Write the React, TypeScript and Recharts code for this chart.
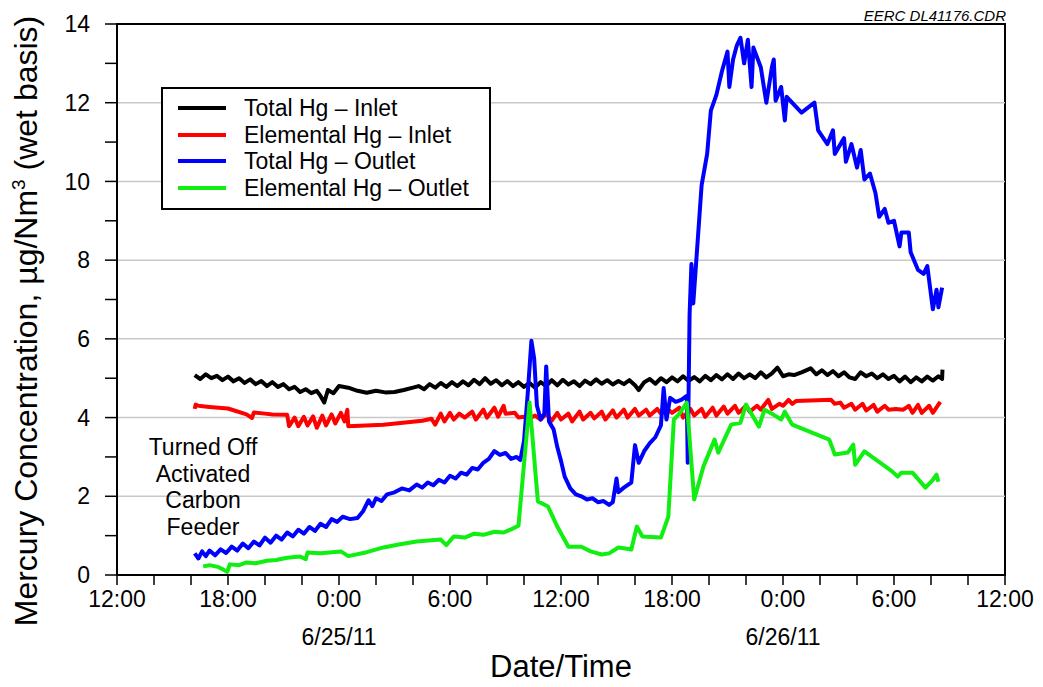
import { LineChart, Line, XAxis, YAxis, ReferenceLine, ReferenceArea, Legend } from 'recharts';

// hours after 6/24/11 12:00, concentration in µg/Nm3
const totalInlet: [number, number][] = [
    [4.2, 5.08], [4.5, 4.98], [4.8, 5.1], [5.1, 5.0], [5.4, 5.06], [5.7, 4.95], [6.0, 5.04], [6.3, 4.92], [6.6, 5.0],
    [6.9, 4.88], [7.2, 4.97], [7.5, 4.85], [7.8, 4.93], [8.1, 4.8], [8.4, 4.9], [8.7, 4.78], [9.0, 4.85], [9.3, 4.72],
    [9.6, 4.78], [9.9, 4.65], [10.2, 4.72], [10.5, 4.62], [10.8, 4.68], [11.0, 4.55], [11.2, 4.38], [11.4, 4.7],
    [11.7, 4.62], [12.0, 4.8], [12.5, 4.76], [13.0, 4.68], [13.5, 4.63], [14.0, 4.68], [14.5, 4.64], [15.0, 4.65],
    [15.5, 4.7], [16.0, 4.76], [16.3, 4.8], [16.6, 4.72], [16.9, 4.85], [17.2, 4.76], [17.5, 4.88], [17.8, 4.78],
    [18.1, 4.9], [18.4, 4.8], [18.7, 4.92], [19.0, 4.82], [19.3, 4.96], [19.6, 4.85], [19.9, 5.0], [20.2, 4.86],
    [20.5, 4.95], [20.8, 4.82], [21.1, 4.93], [21.4, 4.8], [21.7, 4.9], [22.0, 4.78], [22.3, 4.88], [22.6, 4.76],
    [22.9, 4.9], [23.2, 4.8], [23.5, 4.95], [23.8, 4.82], [24.1, 4.96], [24.4, 4.84], [24.7, 4.92], [25.0, 4.8],
    [25.3, 4.94], [25.6, 4.85], [25.9, 4.97], [26.2, 4.86], [26.5, 4.95], [26.8, 4.84], [27.1, 4.93], [27.4, 4.85],
    [27.7, 4.95], [28.0, 4.82], [28.2, 4.7], [28.5, 4.9], [28.8, 4.98], [29.1, 4.86], [29.4, 5.0], [29.7, 4.9],
    [30.0, 5.02], [30.3, 4.92], [30.6, 5.05], [30.9, 4.93], [31.2, 5.03], [31.5, 4.92], [31.8, 5.06], [32.1, 4.95],
    [32.4, 5.08], [32.7, 4.97], [33.0, 5.1], [33.3, 4.98], [33.6, 5.12], [33.9, 5.0], [34.2, 5.1], [34.5, 5.0],
    [34.8, 5.15], [35.1, 5.02], [35.4, 5.12], [35.7, 5.27], [36.0, 5.05], [36.3, 5.1], [36.6, 5.08], [37.0, 5.15],
    [37.5, 5.25], [37.8, 5.1], [38.1, 5.2], [38.4, 5.08], [38.7, 5.18], [39.0, 5.05], [39.3, 5.15], [39.6, 5.02],
    [39.9, 4.98], [40.2, 5.15], [40.5, 5.05], [40.8, 5.12], [41.1, 5.0], [41.4, 5.1], [41.7, 4.98], [42.0, 5.06],
    [42.3, 4.92], [42.6, 5.04], [42.9, 4.9], [43.2, 5.02], [43.5, 4.92], [43.8, 5.04], [44.1, 4.94], [44.4, 5.05],
    [44.6, 4.98], [44.62, 5.22],
];

const elementalInlet: [number, number][] = [
    [4.2, 4.22], [4.25, 4.33], [4.4, 4.3], [5.0, 4.27], [6.0, 4.23], [7.0, 4.08], [7.3, 3.99], [7.4, 4.13], [8.0, 4.1],
    [8.4, 4.08], [9.2, 4.07], [9.3, 3.78], [9.6, 4.0], [9.8, 3.78], [10.1, 4.02], [10.3, 3.8], [10.6, 4.03], [10.8, 3.74],
    [11.1, 4.05], [11.3, 3.8], [11.6, 4.08], [11.8, 3.85], [12.1, 4.12], [12.3, 3.9], [12.45, 4.2], [12.5, 3.78],
    [14.4, 3.82], [16.5, 3.92], [17.0, 3.97], [17.2, 3.82], [17.5, 4.1], [17.7, 3.9], [18.0, 4.12], [18.2, 3.95],
    [18.5, 4.1], [18.8, 4.0], [19.2, 4.15], [19.4, 3.95], [19.8, 4.2], [20.0, 4.0], [20.4, 4.25], [20.6, 4.02],
    [20.9, 4.3], [21.0, 4.1], [21.5, 4.12], [21.7, 4.0], [22.0, 4.02], [22.3, 3.98], [22.6, 4.05], [22.9, 3.95],
    [23.2, 4.1], [23.5, 3.92], [23.8, 4.12], [24.0, 3.95], [24.4, 4.1], [24.6, 3.9], [25.0, 4.15], [25.2, 3.95],
    [25.6, 4.12], [25.8, 3.98], [26.2, 4.15], [26.4, 3.95], [26.8, 4.18], [27.0, 4.0], [27.4, 4.2], [27.6, 4.0],
    [28.0, 4.22], [28.2, 4.05], [28.6, 4.2], [28.8, 4.05], [29.2, 4.22], [29.4, 4.1], [29.8, 4.2], [30.0, 4.12],
    [30.4, 4.25], [30.6, 4.0], [31.0, 4.22], [31.2, 4.05], [31.6, 4.22], [31.8, 4.02], [32.2, 4.25], [32.4, 4.05],
    [32.8, 4.28], [33.0, 4.1], [33.4, 4.3], [33.6, 4.12], [34.0, 4.3], [34.2, 4.15], [34.6, 4.3], [34.8, 4.2],
    [35.2, 4.45], [35.4, 4.22], [35.8, 4.35], [36.0, 4.3], [36.3, 4.45], [36.5, 4.35], [36.7, 4.42], [38.6, 4.45],
    [38.8, 4.35], [39.1, 4.38], [39.3, 4.25], [39.7, 4.35], [39.9, 4.2], [40.3, 4.35], [40.5, 4.18], [40.9, 4.32],
    [41.1, 4.15], [41.5, 4.3], [41.7, 4.2], [42.1, 4.22], [42.5, 4.2], [42.8, 4.3], [43.0, 4.12], [43.3, 4.32],
    [43.5, 4.12], [43.9, 4.3], [44.1, 4.12], [44.5, 4.4],
];

const totalOutlet: [number, number][] = [
    [4.2, 0.55], [4.4, 0.42], [4.6, 0.6], [4.8, 0.48], [5.0, 0.62], [5.3, 0.5], [5.6, 0.65], [5.9, 0.56], [6.2, 0.72],
    [6.5, 0.62], [6.8, 0.8], [7.1, 0.68], [7.4, 0.85], [7.7, 0.75], [8.0, 0.95], [8.3, 0.82], [8.6, 1.0], [8.9, 0.9],
    [9.2, 1.08], [9.5, 0.98], [9.8, 1.15], [10.1, 1.05], [10.4, 1.22], [10.7, 1.12], [11.0, 1.3], [11.3, 1.22],
    [11.6, 1.42], [11.9, 1.35], [12.2, 1.48], [12.6, 1.42], [13.0, 1.45], [13.3, 1.62], [13.6, 1.9], [13.8, 1.75],
    [14.0, 1.95], [14.3, 1.88], [14.6, 2.05], [15.0, 2.1], [15.4, 2.2], [15.8, 2.15], [16.2, 2.3], [16.5, 2.22],
    [16.8, 2.35], [17.1, 2.28], [17.4, 2.42], [17.7, 2.35], [18.0, 2.52], [18.3, 2.45], [18.6, 2.6], [18.9, 2.55],
    [19.2, 2.72], [19.5, 2.68], [19.8, 2.85], [20.1, 2.95], [20.4, 3.15], [20.7, 3.05], [21.0, 3.1], [21.3, 2.95],
    [21.6, 3.0], [21.8, 2.92], [22.0, 3.4], [22.2, 4.6], [22.4, 5.95], [22.55, 5.5], [22.7, 4.3], [22.9, 3.95],
    [23.1, 4.1], [23.2, 5.3], [23.35, 3.9], [23.6, 3.7], [23.8, 3.25], [24.0, 2.9], [24.2, 2.5], [24.5, 2.2],
    [24.8, 2.05], [25.1, 2.0], [25.4, 1.92], [25.7, 1.95], [26.0, 1.85], [26.3, 1.88], [26.6, 1.78], [26.8, 1.85],
    [27.0, 2.45], [27.1, 2.1], [27.4, 2.22], [27.8, 2.35], [28.0, 3.3], [28.2, 2.85], [28.5, 3.15], [28.8, 3.35],
    [29.1, 3.5], [29.4, 3.8], [29.55, 4.75], [29.7, 3.95], [29.9, 4.5], [30.2, 4.4], [30.5, 4.45], [30.8, 4.55],
    [30.85, 2.85], [30.95, 6.6], [31.05, 7.9], [31.15, 6.9], [31.6, 9.9], [31.9, 10.7], [32.1, 11.8], [32.4, 12.2],
    [32.7, 12.8], [33.0, 13.3], [33.1, 12.4], [33.3, 13.1], [33.5, 13.45], [33.7, 13.65], [33.9, 13.0], [34.1, 13.6],
    [34.3, 12.4], [34.4, 13.4], [34.8, 12.9], [35.1, 12.0], [35.4, 12.9], [35.5, 13.1], [35.6, 12.05], [35.9, 12.4],
    [36.1, 11.55], [36.2, 12.15], [37.0, 11.75], [37.7, 12.0], [37.9, 11.3], [38.4, 10.95], [38.7, 11.3], [38.8, 10.7],
    [39.3, 11.1], [39.4, 10.5], [39.7, 10.95], [40.0, 10.35], [40.2, 10.8], [40.4, 10.05], [40.7, 10.2], [41.0, 9.7],
    [41.2, 9.1], [41.5, 9.3], [41.7, 8.95], [42.0, 9.0], [42.3, 8.35], [42.4, 8.7], [42.8, 8.7], [42.9, 8.2],
    [43.3, 7.75], [43.6, 7.65], [43.8, 7.85], [44.1, 6.75], [44.3, 7.25], [44.4, 6.8], [44.6, 7.3],
];

const elementalOutlet: [number, number][] = [
    [4.66, 0.22], [5.0, 0.25], [5.5, 0.2], [5.96, 0.08], [6.1, 0.27], [6.6, 0.25], [7.0, 0.32], [7.5, 0.3], [8.1, 0.36],
    [8.6, 0.38], [9.2, 0.44], [9.9, 0.47], [10.2, 0.4], [10.3, 0.57], [11.0, 0.55], [12.1, 0.6], [12.5, 0.48],
    [13.5, 0.58], [14.4, 0.7], [15.3, 0.78], [16.2, 0.85], [17.0, 0.88], [17.5, 0.9], [17.8, 0.76], [18.2, 0.98],
    [18.8, 0.95], [19.3, 1.05], [19.8, 1.02], [20.4, 1.1], [20.9, 1.08], [21.3, 1.16], [21.7, 1.25], [22.3, 4.38],
    [22.75, 1.87], [23.3, 1.74], [23.8, 1.23], [24.4, 0.72], [25.1, 0.72], [25.6, 0.6], [26.2, 0.52], [26.6, 0.55],
    [27.1, 0.7], [27.4, 0.68], [27.8, 0.65], [28.1, 1.23], [28.4, 0.98], [29.4, 0.95], [29.8, 1.48], [30.1, 3.95],
    [30.4, 4.1], [30.8, 4.38], [31.2, 1.92], [31.7, 2.76], [32.3, 3.44], [32.5, 3.11], [33.2, 3.82], [33.7, 3.87],
    [34.0, 4.33], [34.7, 3.77], [35.0, 4.2], [35.5, 4.07], [35.9, 3.95], [36.1, 4.15], [36.5, 3.82], [38.5, 3.44],
    [38.8, 3.06], [39.5, 3.11], [39.8, 3.31], [39.9, 2.8], [40.4, 3.14], [41.9, 2.63], [42.2, 2.5], [42.4, 2.6],
    [43.0, 2.6], [43.7, 2.22], [44.1, 2.42], [44.3, 2.55], [44.4, 2.37],
];

const seriesNames = ['Total Hg – Inlet', 'Elemental Hg – Inlet', 'Total Hg – Outlet', 'Elemental Hg – Outlet'];
const xTicks = [0, 2, 4, 6, 8, 10, 12, 14, 16, 18, 20, 22, 24, 26, 28, 30, 32, 34, 36, 38, 40, 42, 44, 46, 48];
const xTimeLabels: Record<number, string> = { 0: '12:00', 6: '18:00', 12: '0:00', 18: '6:00', 24: '12:00', 30: '18:00', 36: '0:00', 42: '6:00', 48: '12:00' };
const xDateLabels: Record<number, string> = { 12: '6/25/11', 36: '6/26/11' };
const yTicks = [0, 1, 2, 3, 4, 5, 6, 7, 8, 9, 10, 11, 12, 13, 14];
const gridValues = [2, 4, 6, 8, 10, 12];
const noteLines = ['Turned Off', 'Activated', 'Carbon', 'Feeder'];

const toRows = (pts: [number, number][]) => pts.map(([h, v]) => ({ h, v }));

const SANS = "'Liberation Sans', Arial, sans-serif";

const XTick = (props: any) => {
    const { x, y, payload } = props;
    const t = xTimeLabels[payload.value];
    if (!t) return null;
    const d = xDateLabels[payload.value];
    return (
        <g>
            <text x={x} y={y + 20} textAnchor="middle" fontSize={23} fontFamily={SANS} fill="#000">{t}</text>
            {d && <text x={x} y={y + 58} textAnchor="middle" fontSize={23} fontFamily={SANS} fill="#000">{d}</text>}
        </g>
    );
};

const YLabel = () => (
    <text x={37} y={321} transform="rotate(-90, 37, 321)" textAnchor="middle" fontSize={32} fontFamily={SANS} fill="#000">
        Mercury Concentration, µg/Nm<tspan dy={-12} fontSize={19}>3</tspan><tspan dy={12}> (wet basis)</tspan>
    </text>
);

const LegendBox = ({ payload }: any) => {
    const items = [...(payload || [])].sort((a: any, b: any) => seriesNames.indexOf(a.value) - seriesNames.indexOf(b.value));
    return (
        <div style={{ border: '2px solid #000', background: '#fff', boxSizing: 'border-box', width: 330, height: 123, padding: '6px 0 0 14px' }}>
            {items.map((p: any) => (
                <div key={p.value} style={{ display: 'flex', alignItems: 'center', height: 26.5 }}>
                    <svg width={50} height={10} style={{ marginRight: 17 }}>
                        <line x1={1} y1={5} x2={49} y2={5} stroke={p.color} strokeWidth={4} />
                    </svg>
                    <span style={{ fontFamily: SANS, fontSize: 23, color: '#000', lineHeight: '26px' }}>{p.value}</span>
                </div>
            ))}
        </div>
    );
};

export default function App() {
    return (
        <div style={{ position: 'absolute', left: 0, top: 0, width: 1043, height: 687, background: '#fff' }}>
            <LineChart width={1043} height={687} margin={{ top: 24, right: 38, left: 0, bottom: 0 }}>
                {gridValues.map((g) => (
                    <ReferenceLine key={g} y={g} stroke="#c8c8c8" strokeWidth={1.5} />
                ))}
                <ReferenceArea x1={0} x2={48} y1={0} y2={14} fill="none" stroke="#000" strokeWidth={2} />
                <XAxis
                    type="number"
                    dataKey="h"
                    domain={[0, 48]}
                    ticks={xTicks}
                    interval={0}
                    height={112}
                    tickSize={10}
                    tickMargin={2}
                    tick={<XTick />}
                    axisLine={{ stroke: '#000', strokeWidth: 2 }}
                    tickLine={{ stroke: '#000', strokeWidth: 1.5 }}
                    allowDataOverflow
                    label={{ value: 'Date/Time', position: 'insideBottom', offset: 10, fontSize: 31, fontFamily: SANS, fill: '#000' }}
                />
                <YAxis
                    type="number"
                    domain={[0, 14]}
                    ticks={yTicks}
                    interval={0}
                    width={117}
                    tickSize={12}
                    tickMargin={15}
                    tickFormatter={(v: number) => (v % 2 === 0 ? String(v) : '')}
                    tick={{ fontSize: 23, fontFamily: SANS, fill: '#000' }}
                    axisLine={{ stroke: '#000', strokeWidth: 2 }}
                    tickLine={{ stroke: '#000', strokeWidth: 1.5 }}
                    label={<YLabel />}
                />
                <Legend
                    layout="vertical"
                    align="center"
                    verticalAlign="middle"
                    content={<LegendBox />}
                    wrapperStyle={{ left: 161, top: 87, width: 330, height: 123 }}
                />
                <Line data={toRows(totalInlet)} dataKey="v" name={seriesNames[0]} stroke="#000000" strokeWidth={4} strokeLinejoin="round" dot={false} isAnimationActive={false} />
                <Line data={toRows(elementalInlet)} dataKey="v" name={seriesNames[1]} stroke="#ff0000" strokeWidth={4} strokeLinejoin="round" dot={false} isAnimationActive={false} />
                <Line data={toRows(totalOutlet)} dataKey="v" name={seriesNames[2]} stroke="#0000ff" strokeWidth={4} strokeLinejoin="round" dot={false} isAnimationActive={false} />
                <Line data={toRows(elementalOutlet)} dataKey="v" name={seriesNames[3]} stroke="#11ee11" strokeWidth={4} strokeLinejoin="round" dot={false} isAnimationActive={false} />
            </LineChart>
            <svg width={1043} height={687} style={{ position: 'absolute', left: 0, top: 0, pointerEvents: 'none' }}>
                <text x={1006} y={21} textAnchor="end" fontSize={15} fontStyle="italic" fontFamily={SANS} fill="#000">EERC DL41176.CDR</text>
                {noteLines.map((s, i) => (
                    <text key={s} x={203} y={455 + i * 26.7} textAnchor="middle" fontSize={23} fontFamily={SANS} fill="#000">{s}</text>
                ))}
            </svg>
        </div>
    );
}
